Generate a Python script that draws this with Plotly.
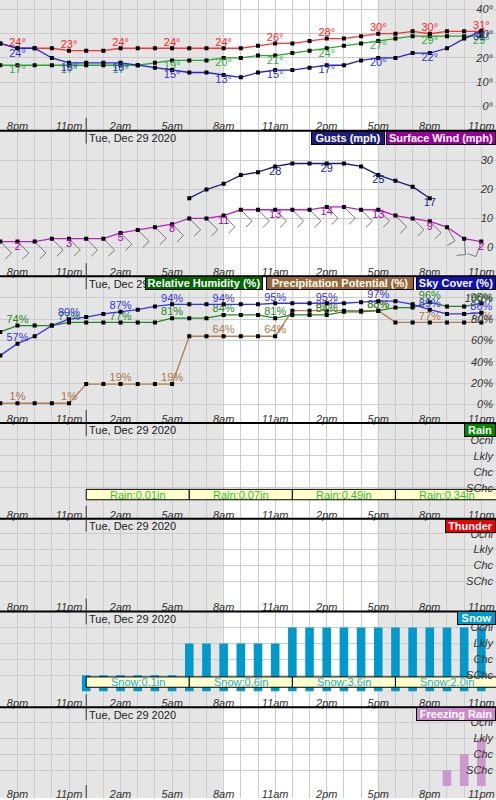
import math
import plotly.graph_objects as go

# ---------------- data ----------------
hours = list(range(29))  # 0 = 7pm Dec 28 ... 28 = 11pm Dec 29
tick_idx = [1, 4, 7, 10, 13, 16, 19, 22, 25, 28]
tick_text = ['8pm', '11pm', '2am', '5am', '8am', '11am', '2pm', '5pm', '8pm', '11pm']
date_label = 'Tue, Dec 29 2020'
midnight = 5
sunrise = 12.95
sunset = 21.96

temperature = [26, 24, 24, 24, 23, 23, 23, 24, 24, 24, 24, 24, 24, 24, 24, 25, 26, 26, 27, 28, 28, 29, 30, 30, 31, 30, 31, 31, 31]
dewpoint = [17, 17, 17, 17, 17, 17, 17, 17, 17, 18, 19, 19, 19, 20, 20, 21, 21, 22, 23, 24, 25, 26, 27, 28, 29, 29, 29, 29, 29]
wind_chill = [26, 24, 24, 20, 18, 18, 18, 18, 17, 16, 15, 14, 14, 13, 12, 14, 15, 15, 16, 17, 17, 19, 20, 20, 22, 22, 24, 28, 31]

gusts = [None] * 11 + [17, 20, 22, 25, 26, 28, 29, 29, 29, 29, 28, 25, 23, 21, 17] + [None] * 3
wind = [2, 2, 2, 3, 3, 3, 3, 5, 6, 7, 8, 10, 10, 11, 13, 13, 13, 13, 13, 14, 14, 13, 13, 11, 10, 9, 7, 3, 2]
wind_dir = [135] * 26 + [150, 175, 200]

sky_cover = [46, 57, 64, 74, 80, 82, 85, 87, 89, 92, 94, 94, 94, 94, 94, 94, 95, 95, 95, 95, 95, 96, 97, 97, 94, 89, 85, 85, 86]
humidity = [68, 74, 74, 74, 77, 77, 77, 77, 77, 77, 81, 81, 81, 84, 84, 84, 81, 84, 84, 84, 87, 87, 88, 91, 91, 96, 92, 92, 95]
precip_pot = [1, 1, 1, 1, 1, 19, 19, 19, 19, 19, 19, 64, 64, 64, 64, 64, 64, 88, 88, 88, 88, 88, 88, 77, 77, 77, 77, 77, 77]

chance_labels = ['SChc', 'Chc', 'Lkly', 'Ocnl']
rain_level = [0] * 29
thunder_level = [0] * 29
snow_level = [0] * 5 + [1] * 6 + [3] * 6 + [4] * 12
frz_level = [0] * 26 + [1, 2, 3]

period_start = [5, 11, 17, 23]
period_len = 6
rain_totals = [0.01, 0.07, 0.49, 0.34]
snow_totals = [0.1, 0.6, 3.6, 2.0]

# ---------------- geometry ----------------
W, H = 496, 800
PX_H = 17.18
X0 = 0.3
x_range = [-X0 / PX_H, (W - X0) / PX_H]

# (top px, bottom px, px of value 0, px per unit)
panels = [
    (0, 131, 106.7, 2.43),
    (131, 277, 248.0, 2.9),
    (277, 424, 405.3, 1.066),
    (424, 520, 505.0, 16.0),
    (520, 613, 599.0, 16.0),
    (613, 709, 693.0, 16.0),
    (709, 800, 788.0, 16.0),
]

FONT = 'Liberation Sans, Arial, sans-serif'
GRID = '#cccccc'
fig = go.Figure()
layout = dict(width=W, height=H, margin=dict(l=0, r=0, t=0, b=0), autosize=False,
              paper_bgcolor='white', plot_bgcolor='white', showlegend=False,
              barmode='overlay', font=dict(family=FONT))

ytick_cfg = [
    ([0, 10, 20, 30, 40], [f'{v}°' for v in [0, 10, 20, 30, 40]]),
    ([0, 10, 20, 30], ['0', '10', '20', '30']),
    ([0, 20, 40, 60, 80, 100], [f'{v}%' for v in [0, 20, 40, 60, 80, 100]]),
] + [([1, 2, 3, 4], chance_labels)] * 4

for k, (T, B, z, ppu) in enumerate(panels):
    n = '' if k == 0 else str(k + 1)
    layout['xaxis' + n] = dict(
        domain=[0, 1], range=x_range, anchor='y' + n,
        tickmode='array', tickvals=tick_idx, ticktext=tick_text,
        ticklabelposition='inside', ticklabeloverflow='allow', ticklabelstandoff=-5,
        ticks='', showline=False, zeroline=False,
        showgrid=True, gridcolor=GRID, gridwidth=1,
        minor=dict(tickmode='linear', tick0=0, dtick=1, showgrid=True, gridcolor=GRID, gridwidth=1, ticks=''),
        tickfont=dict(size=11, color='#333333', style='italic', family=FONT),
        fixedrange=True,
    )
    tv, tt = ytick_cfg[k]
    layout['yaxis' + n] = dict(
        domain=[1 - B / H, 1 - T / H], range=[(z - B) / ppu, (z - T) / ppu], anchor='x' + n,
        side='right', tickmode='array', tickvals=tv, ticktext=tt,
        ticklabelposition='inside', ticklabeloverflow='allow', ticks='', showline=False, zeroline=False,
        showgrid=True, gridcolor=GRID, gridwidth=1,
        tickfont=dict(size=11, color='#333333', style='italic', family=FONT),
        fixedrange=True,
    )

def lbl(vals, fmt):
    return [fmt.format(v) if (i in tick_idx and v is not None) else '' for i, v in enumerate(vals)]

def add_series(vals, color, txtcolor, fmt, pos, axis):
    fig.add_trace(go.Scatter(x=hours, y=vals, mode='lines+markers', xaxis='x' + axis, yaxis='y' + axis,
                             line=dict(color=color, width=1.3), connectgaps=False,
                             marker=dict(symbol='square', size=4, color='black'), hoverinfo='skip'))
    fig.add_trace(go.Scatter(x=hours, y=vals, mode='text', xaxis='x' + axis, yaxis='y' + axis,
                             text=lbl(vals, fmt), textposition=pos, cliponaxis=False,
                             textfont=dict(size=11, color=txtcolor, family=FONT), hoverinfo='skip'))

# panel 1
add_series(temperature, '#ff3333', '#ff2020', '{}°', 'top center', '')
add_series(dewpoint, '#22aa22', '#33aa33', '{}°', 'bottom center', '')
add_series(wind_chill, '#2222dd', '#3333cc', '{}°', 'bottom center', '')

# panel 2 : wind barbs (shaft toward wind source, one feather)
ppx, ppy = PX_H, panels[1][3]
bx, by = [], []
for x, s, d in zip(hours, wind, wind_dir):
    r = math.radians(d)
    ux, uy = math.sin(r), -math.cos(r)  # screen (right, down)
    L, F = 16.0, 9.0
    ex, ey = ux * L, uy * L
    fx, fy = -uy * F, ux * F
    bx += [x, x + ex / ppx, x + (ex + fx) / ppx, None]
    by += [s, s - ey / ppy, s - (ey + fy) / ppy, None]
fig.add_trace(go.Scatter(x=bx, y=by, mode='lines', xaxis='x2', yaxis='y2',
                         line=dict(color='#777777', width=1), hoverinfo='skip'))
add_series(gusts, '#1a1a80', '#1a1a80', '{}', 'bottom center', '2')
add_series(wind, '#bb22bb', '#b000b0', '{}', 'bottom center', '2')

# panel 3
add_series(precip_pot, '#b08050', '#a87848', '{}%', 'top center', '3')
add_series(humidity, '#228822', '#228822', '{}%', 'top center', '3')
add_series(sky_cover, '#3333ff', '#3333dd', '{}%', 'top center', '3')

# bars
def level_bars(levels, color, axis):
    return go.Bar(x=hours, y=levels, width=0.5, marker=dict(color=color, line=dict(width=0)),
                  xaxis='x' + axis, yaxis='y' + axis, hoverinfo='skip')

fig.add_trace(level_bars(rain_level, '#009900', '4'))
fig.add_trace(level_bars(thunder_level, '#ff0000', '5'))
fig.add_trace(level_bars(snow_level, '#0099cc', '6'))
fig.add_trace(level_bars(frz_level, '#cc99cc', '7'))

centers = [s + period_len / 2 for s in period_start]
for axis in ['4', '6']:
    fig.add_trace(go.Bar(x=centers, y=[0.65] * 4, base=0.25, width=period_len,
                         marker=dict(color='#ffffcc', line=dict(color='black', width=1)),
                         xaxis='x' + axis, yaxis='y' + axis, hoverinfo='skip'))

annotations = []
for c, v in zip(centers, rain_totals):
    annotations.append(dict(x=c, y=0.575, xref='x4', yref='y4', text=f'Rain:{v:.2f}in', showarrow=False,
                            font=dict(size=11, color='#33bb33', family=FONT)))
for c, v in zip(centers, snow_totals):
    annotations.append(dict(x=c, y=0.575, xref='x6', yref='y6', text=f'Snow:{v:.1f}in', showarrow=False,
                            font=dict(size=11, color='#22aadd', family=FONT)))

shapes = []
# night shading
for a, b in [(x_range[0], sunrise), (sunset, x_range[1])]:
    shapes.append(dict(type='rect', xref='x', yref='paper', x0=a, x1=b, y0=0, y1=1,
                       fillcolor='#e5e5e5', line=dict(width=0), layer='below'))
# panel borders, midnight marks, date headers
for k, (T, B, z, ppu) in enumerate(panels):
    if k < len(panels) - 1:
        shapes.append(dict(type='line', xref='paper', yref='paper', x0=0, x1=1, y0=1 - B / H, y1=1 - B / H,
                           line=dict(color='black', width=2)))
    shapes.append(dict(type='line', xref='x', yref='paper', x0=midnight, x1=midnight,
                       y0=1 - B / H, y1=1 - (B - 13) / H, line=dict(color='#333333', width=1)))
    if k > 0:
        shapes.append(dict(type='line', xref='x', yref='paper', x0=midnight, x1=midnight,
                           y0=1 - (T + 13) / H, y1=1 - T / H, line=dict(color='#333333', width=1)))
        annotations.append(dict(x=midnight, xref='x', xanchor='left', xshift=1, y=1 - (T + 7.5) / H, yref='paper',
                                yanchor='middle', text=date_label, showarrow=False,
                                font=dict(size=11, color='#222222', family=FONT)))

# legend boxes: (panel, text, bg, left px, right px)
boxes = [
    (1, 'Gusts (mph)', '#1c1c7c', 311, 385),
    (1, 'Surface Wind (mph)', '#990099', 386, 496),
    (2, 'Relative Humidity (%)', '#006600', 145, 263),
    (2, 'Precipitation Potential (%)', '#996633', 266, 414),
    (2, 'Sky Cover (%)', '#1010bb', 416, 496),
    (3, 'Rain', '#008800', 464, 496),
    (4, 'Thunder', '#ee0000', 445, 496),
    (5, 'Snow', '#0099cc', 457, 496),
    (6, 'Freezing Rain', '#cc88cc', 416, 496),
]
for k, text, bg, l, r in boxes:
    T = panels[k][0]
    annotations.append(dict(x=l / W, xref='paper', xanchor='left', y=1 - T / H, yref='paper', yanchor='top',
                            text=f'<b>{text}</b>', showarrow=False, bgcolor=bg, bordercolor='black',
                            borderwidth=1, borderpad=0, width=r - l - 2, height=12, align='center',
                            font=dict(size=11, color='white', family=FONT)))

layout['shapes'] = shapes
layout['annotations'] = annotations
fig.update_layout(**layout)
fig.write_html('out.html', include_plotlyjs=True, config={'displayModeBar': False})
